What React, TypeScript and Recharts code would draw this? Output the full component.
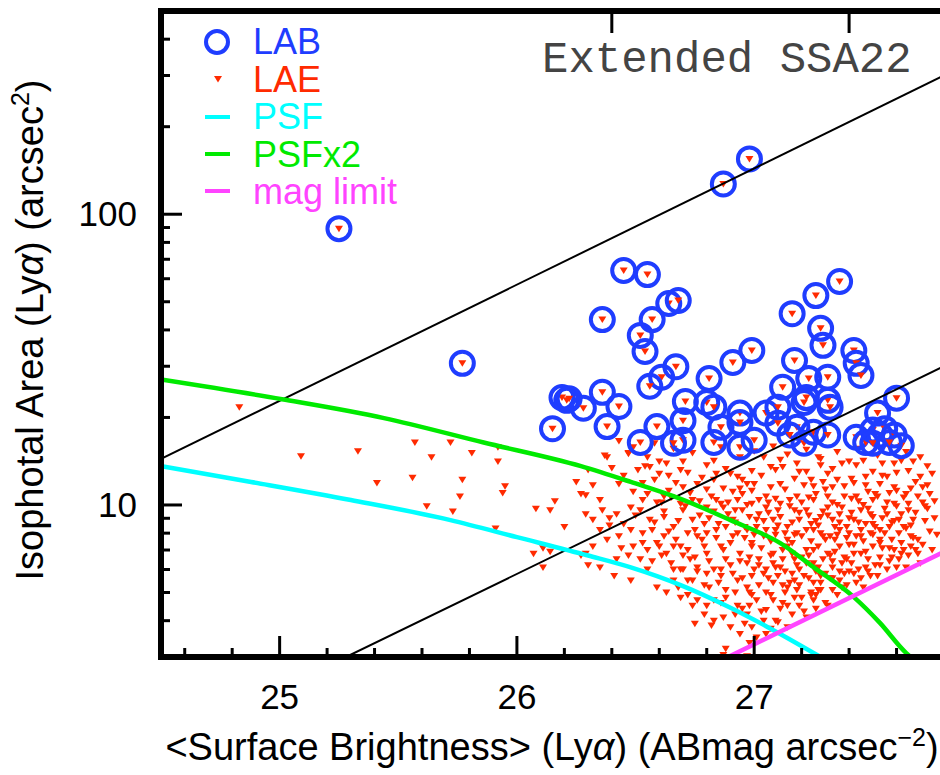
import { Scatter, ScatterChart, XAxis, YAxis } from 'recharts';

// Lyα isophotal area vs mean surface brightness, Extended SSA22 field.
const FONT = '"Liberation Sans", Arial, Helvetica, sans-serif';
const BLUE = '#1f3dff';
const RED = '#ff2a00';
const CYAN = '#00ffff';
const GREEN = '#00ea00';
const MAGENTA = '#ff44ff';

const X_DOMAIN: [number, number] = [24.5, 27.8];
const Y_DOMAIN: [number, number] = [3, 500];
const X_TICKS = [
  24.6, 24.8, 25, 25.2, 25.4, 25.6, 25.8, 26, 26.2, 26.4, 26.6, 26.8, 27, 27.2, 27.4, 27.6,
];
const X_TOP_TICKS = [26.4, 27.4];
const Y_TICKS = [4, 5, 6, 7, 8, 9, 10, 20, 30, 40, 50, 60, 70, 80, 90, 100, 200, 300, 400];
const Y_RIGHT_TICKS = [...Y_TICKS, 500];

// Lyα blobs (circles)
const LAB: [number, number][] = [
  [25.25, 89.2], [25.77, 30.7], [26.87, 127], [26.98, 155], [26.15, 18.3], [26.19, 23.4],
  [26.21, 22.9], [26.22, 23.2], [26.28, 21.5], [26.36, 24.4], [26.36, 43.4], [26.43, 21.8],
  [26.38, 18.6], [26.45, 64.0], [26.55, 62.0], [26.52, 38.3], [26.54, 33.7], [26.57, 43.4],
  [26.64, 49.3], [26.68, 50.5], [26.67, 29.9], [26.61, 27.5], [26.56, 25.6], [26.52, 16.4],
  [26.59, 18.6], [26.71, 22.7], [26.7, 19.5], [26.7, 16.7], [26.66, 16.3], [26.81, 27.2],
  [26.8, 22.5], [26.83, 21.7], [26.83, 16.4], [26.86, 18.5], [26.91, 30.9], [26.99, 34.0],
  [26.94, 20.7], [26.94, 19.2], [26.94, 15.8], [27.0, 16.7], [27.05, 20.7], [27.1, 21.7],
  [27.12, 25.4], [27.1, 19.1], [27.16, 45.5], [27.17, 31.4], [27.26, 52.5], [27.28, 40.5],
  [27.29, 35.4], [27.36, 58.7], [27.23, 27.2], [27.22, 23.4], [27.21, 22.5], [27.18, 18.5],
  [27.15, 17.4], [27.21, 16.3], [27.25, 17.8], [27.31, 27.5], [27.31, 22.9], [27.32, 21.7],
  [27.31, 17.4], [27.42, 34.0], [27.43, 30.7], [27.45, 27.9], [27.6, 23.3], [27.52, 20.7],
  [27.43, 17.1], [27.47, 16.4], [27.5, 18.1], [27.53, 17.4], [27.55, 18.3], [27.59, 17.4],
  [27.62, 16.0], [27.5, 16.3], [27.57, 16.4],
];

// Lyα emitters (small red triangles)
const LAE: [number, number][] = [
  // sparse, bright end
  [24.83, 21.7], [25.09, 14.7], [25.33, 15.3], [25.41, 11.9], [25.57, 16.4], [25.56, 12.4],
  [25.64, 14.6], [25.72, 16.4], [25.81, 15.1], [25.77, 12.2], [25.76, 10.7], [25.73, 9.5],
  [25.62, 9.9], [25.92, 15.8], [25.92, 14.1], [25.95, 11.6], [25.94, 11.0], [25.91, 8.3],
  [26.08, 9.7], [26.14, 9.6], [26.16, 10.3], [26.2, 8.4], [26.07, 6.8], [26.11, 7.1],
  [26.14, 6.9], [26.11, 6.1], [26.25, 12.0], [26.27, 10.9], [26.3, 13.2], [26.3, 6.2],
  [26.27, 6.7], [26.38, 14.6], [26.47, 15.1],
  // upper band
  [26.37, 14.8], [26.47, 15.0], [26.51, 13.2], [26.56, 13.5], [26.6, 14.1], [26.63, 13.9],
  [26.69, 13.2], [26.8, 13.7], [26.84, 12.8], [26.88, 13.3], [26.93, 12.5], [26.97, 11.8],
  [27.04, 14.6], [27.09, 13.2], [27.12, 13.5], [27.18, 13.9], [27.22, 13.0], [27.28, 13.7],
  [27.31, 12.8], [27.33, 13.3], [27.37, 13.9], [27.4, 14.1], [27.43, 13.7], [27.47, 12.5],
  [27.5, 13.0], [27.54, 13.9], [27.59, 13.9], [27.62, 14.2], [27.67, 14.1], [27.7, 12.5],
  [27.73, 11.7], [27.56, 12.5], [27.53, 11.8], [27.47, 11.7], [27.41, 12.3], [27.35, 12.2],
  [27.29, 12.0], [27.24, 12.2], [27.17, 12.3], [27.11, 11.8], [27.07, 11.5], [26.32, 11.7],
  [26.29, 10.8], [26.43, 11.8], [26.49, 11.1], [26.53, 10.4], [26.59, 10.2], [26.64, 11.2],
  [26.7, 11.5], [26.76, 11.8], [26.83, 12.2], [26.87, 11.4], [26.91, 11.1], [26.95, 12.2],
  [26.99, 11.2], [27.02, 10.4],
  [26.66, 15.6], [26.74, 15.1], [26.86, 15.8], [26.94, 14.6], [27.0, 15.3], [27.08, 15.9],
  [27.14, 14.9], [27.22, 15.5], [27.27, 14.6], [27.35, 15.2], [27.44, 15.6], [27.52, 14.8],
  [27.57, 15.8], [27.64, 15.2], [27.7, 14.6], [26.55, 14.6], [26.49, 15.8], [26.43, 16.6],
  [26.58, 16.3],
  [26.53, 11.9], [26.64, 12.6], [26.8, 11.3], [26.9, 12.8], [27.07, 13.5], [27.19, 13.0],
  [27.25, 11.6], [27.33, 11.5], [27.42, 11.9], [27.54, 12.6], [27.6, 12.9], [27.65, 13.1],
  [27.73, 13.6], [27.46, 14.2], [27.28, 14.4], [27.11, 14.3], [26.99, 13.1], [26.83, 14.2],
  [26.7, 14.1], [26.6, 12.8],
  // middle band
  [26.32, 8.9], [26.36, 9.6], [26.39, 9.0], [26.45, 8.6], [26.48, 8.2], [26.52, 9.6],
  [26.56, 8.9], [26.62, 9.1], [26.66, 8.4], [26.7, 9.6], [26.74, 8.9], [26.79, 8.6],
  [26.83, 9.5], [26.87, 9.8], [26.91, 8.9], [26.95, 9.6], [26.98, 9.1], [27.02, 9.3],
  [27.05, 9.8], [27.08, 8.9], [27.11, 9.1], [27.14, 8.4], [27.17, 9.6], [27.19, 8.9],
  [27.22, 9.6], [27.25, 8.2], [27.28, 9.1], [27.31, 9.8], [27.33, 8.9], [27.36, 9.3],
  [27.39, 8.4], [27.42, 8.9], [27.45, 9.6], [27.47, 8.6], [27.5, 9.1], [27.53, 8.2],
  [27.56, 9.3], [27.59, 10.1], [27.61, 8.9], [27.65, 9.6], [27.67, 8.9], [27.5, 10.4],
  [27.43, 10.7], [27.38, 10.7], [27.31, 10.7], [27.25, 10.4], [27.18, 10.7], [27.11, 10.1],
  [27.05, 10.7], [26.99, 10.1], [26.93, 10.4], [26.86, 10.1], [26.8, 9.8], [26.74, 10.4],
  [26.69, 10.1], [26.62, 10.7], [26.55, 10.9], [26.48, 9.8], [26.42, 9.3], [26.35, 10.4],
  [27.64, 10.9], [27.59, 11.5], [27.69, 10.7], [27.66, 7.8], [27.61, 8.0], [27.57, 8.4],
  [27.53, 7.6], [27.49, 8.0], [27.45, 7.8], [27.4, 8.0], [27.36, 8.2], [27.32, 7.8],
  [27.28, 8.0], [27.24, 8.6], [27.18, 8.0], [27.14, 7.6], [27.09, 8.2], [27.05, 8.2],
  [27.01, 8.4], [26.97, 8.2], [26.93, 8.0], [26.88, 8.4], [26.84, 8.2], [26.8, 8.0],
  [26.76, 7.8], [26.72, 8.0], [26.67, 7.6], [26.62, 7.8], [26.57, 8.2], [26.53, 8.0],
  [26.49, 7.2], [26.55, 7.0],
  [26.95, 10.9], [27.0, 11.8], [27.03, 12.6], [27.06, 9.4], [27.09, 10.5], [27.13, 11.3],
  [27.15, 9.9], [27.16, 8.7], [27.2, 10.2], [27.21, 11.7], [27.23, 9.2], [27.26, 10.9],
  [27.27, 8.5], [27.29, 9.5], [27.3, 11.3], [27.33, 10.2], [27.34, 8.4], [27.37, 9.8],
  [27.38, 11.6], [27.4, 9.0], [27.41, 10.5], [27.44, 8.7], [27.46, 10.0], [27.48, 11.1],
  [27.49, 9.3], [27.51, 8.4], [27.52, 10.7], [27.55, 9.7], [27.57, 11.0], [27.58, 8.7],
  [27.6, 9.9], [27.63, 10.6], [27.64, 8.3], [27.66, 11.4], [27.68, 9.4], [27.71, 10.2],
  [27.72, 8.8], [27.76, 10.3], [27.75, 12.8], [27.77, 7.9], [27.76, 9.0],
  [26.62, 9.5], [26.65, 10.6], [26.68, 8.8], [26.71, 9.9], [26.73, 11.0], [26.75, 8.2],
  [26.77, 10.3], [26.79, 7.2], [26.81, 9.0], [26.84, 10.4], [26.85, 8.6], [26.87, 7.0],
  [26.89, 10.2], [26.91, 7.8], [26.92, 9.6], [26.94, 6.4], [26.96, 8.4], [26.97, 10.0],
  [26.99, 7.4], [27.01, 8.9], [27.02, 6.2], [27.04, 7.8], [27.06, 10.2], [27.07, 6.7],
  [27.09, 7.9], [27.1, 9.6], [27.12, 6.5], [27.13, 8.0], [27.15, 10.4], [27.16, 6.8],
  [27.17, 7.9], [27.19, 9.4], [27.2, 6.6], [27.22, 8.2], [27.23, 10.6], [27.25, 7.0],
  [27.26, 8.8], [27.27, 6.1], [27.29, 7.8], [27.31, 9.2], [27.32, 6.7], [27.34, 7.6],
  [27.35, 10.0], [27.36, 8.7], [27.38, 6.6], [27.39, 7.7], [27.41, 9.4], [27.42, 7.3],
  [27.44, 10.3], [27.45, 8.2], [27.47, 6.9], [27.48, 9.7], [27.5, 8.6], [27.51, 10.9],
  [27.53, 7.4], [27.54, 9.0], [27.56, 10.2], [27.57, 7.1], [27.59, 8.8], [27.6, 11.2],
  [27.62, 9.3], [27.63, 7.0], [27.65, 10.1], [27.66, 8.5], [27.68, 12.0], [27.69, 7.6],
  [27.71, 11.5], [27.72, 9.9], [27.74, 10.9], [27.75, 7.0],
  // lower band
  [26.59, 7.4], [26.63, 6.8], [26.69, 7.2], [26.73, 6.5], [26.76, 6.1], [26.8, 6.8],
  [26.83, 6.0], [26.86, 7.2], [26.88, 6.5], [26.91, 5.8], [26.94, 6.8], [26.97, 6.3],
  [26.99, 7.2], [27.02, 6.5], [27.05, 6.0], [27.08, 6.8], [27.11, 6.1], [27.14, 7.2],
  [27.17, 6.5], [27.19, 6.0], [27.22, 7.0], [27.25, 6.3], [27.28, 5.7], [27.31, 6.8],
  [27.33, 6.1], [27.36, 7.2], [27.39, 6.5], [27.42, 5.8], [27.45, 6.8], [27.47, 6.1],
  [27.5, 7.2], [27.53, 6.6], [27.56, 6.0], [27.59, 7.0], [27.61, 6.5], [27.64, 6.1],
  [27.66, 7.2], [27.69, 6.8], [27.49, 5.7], [27.36, 5.5], [27.25, 5.4], [27.17, 5.5],
  [27.08, 5.4], [26.99, 5.7], [26.93, 5.5], [26.86, 5.7], [26.8, 5.8], [26.74, 5.5],
  [26.69, 6.0], [26.65, 6.3], [27.46, 5.2], [27.33, 5.1], [27.24, 5.0], [27.14, 5.2],
  [27.05, 5.0], [26.97, 5.2], [26.88, 5.1], [26.81, 5.2],
  [26.9, 7.4], [26.92, 8.7], [26.96, 7.7], [26.98, 6.6], [27.0, 7.9], [27.03, 7.1],
  [27.04, 8.8], [27.07, 7.5], [27.08, 6.3], [27.1, 8.5], [27.12, 7.0], [27.13, 5.9],
  [27.16, 7.4], [27.18, 6.2], [27.2, 7.8], [27.21, 5.7], [27.23, 6.7], [27.24, 7.5],
  [27.26, 5.9], [27.27, 7.2], [27.29, 6.5], [27.3, 7.6], [27.32, 5.6], [27.34, 6.9],
  [27.35, 7.9], [27.37, 6.3], [27.38, 5.8], [27.4, 7.3], [27.42, 6.8], [27.43, 7.8],
  [27.44, 6.0], [27.46, 7.5], [27.48, 6.5], [27.5, 7.9], [27.51, 6.2], [27.52, 5.7],
  [27.54, 7.1], [27.55, 8.0], [27.57, 6.4], [27.58, 7.6], [27.6, 6.1], [27.62, 7.4],
  [27.63, 8.4], [27.65, 6.7], [27.67, 7.7], [27.7, 6.3], [27.71, 7.3], [27.73, 9.7],
  [27.74, 8.1],
  [26.72, 7.0], [26.75, 6.6], [26.78, 7.6], [26.79, 5.3], [26.81, 6.4], [26.84, 7.7],
  [26.86, 6.0], [26.7, 6.0], [26.68, 5.2], [26.66, 7.2], [26.64, 8.1], [26.61, 6.7],
  [26.77, 9.2], [26.82, 10.7], [26.89, 9.3], [26.94, 11.4], [26.78, 12.4], [26.72, 12.9],
  [26.67, 11.9], [26.58, 12.2], [26.54, 13.6], [26.45, 12.6], [26.4, 13.4],
  [26.95, 5.6], [26.98, 5.0], [27.0, 6.0], [27.04, 5.8], [27.09, 6.1], [27.12, 5.3],
  [27.16, 5.8], [27.19, 5.3], [27.22, 6.3], [27.24, 4.9], [27.27, 5.1], [27.3, 5.8],
  [27.33, 6.4], [27.36, 5.9], [27.39, 5.3], [27.41, 6.3], [27.45, 5.6], [27.48, 5.9],
  [27.53, 6.2], [27.58, 6.6], [27.62, 6.8], [27.68, 7.0],
  [26.76, 5.9], [26.72, 5.5], [26.7, 6.7], [26.66, 6.0], [26.6, 7.2], [26.57, 6.4],
  [26.53, 7.4], [26.47, 6.7], [26.44, 7.1], [26.39, 8.5], [26.5, 9.2], [26.58, 8.7],
  [26.61, 10.2],
  // faint end, near the limits
  [26.76, 4.7], [26.8, 4.5], [26.83, 4.0], [26.87, 4.1], [26.93, 4.5], [26.97, 4.2],
  [27.01, 4.7], [27.05, 4.35], [27.09, 4.0], [27.12, 4.6], [27.17, 4.8], [27.19, 4.5],
  [27.25, 4.7], [27.28, 5.1], [27.31, 4.5], [27.22, 4.1], [27.14, 3.8], [26.99, 3.8],
  [26.94, 3.6], [26.88, 3.2], [27.05, 3.6], [26.83, 4.7], [26.74, 4.5], [26.69, 4.8],
  [26.63, 5.0], [26.59, 5.2], [26.55, 6.0], [26.52, 6.5], [26.48, 5.5], [26.41, 5.7],
  [26.42, 6.5], [26.35, 6.1], [26.29, 6.8], [26.32, 7.2], [26.38, 7.6], [26.43, 7.8],
  [26.35, 8.2], [26.29, 9.3],
  [26.87, 3.05], [26.97, 3.02], [26.98, 3.35], [26.96, 3.9], [26.75, 3.9], [26.82, 3.85],
  [27.1, 3.95],
  [26.85, 5.4], [26.88, 4.8], [26.9, 6.2], [26.92, 5.0], [26.95, 4.4], [26.99, 4.9],
  [27.02, 5.3], [27.03, 4.3], [27.06, 5.6], [27.07, 4.9], [27.1, 5.7], [27.11, 4.4],
  [27.13, 5.0], [27.15, 5.4], [27.16, 4.2], [27.18, 5.1], [27.2, 4.8], [27.23, 5.6],
  [27.26, 4.9], [27.28, 5.4], [27.3, 4.6], [27.33, 5.6], [27.35, 4.9], [27.37, 5.2],
  [27.4, 5.9], [27.43, 5.4],
  [26.92, 4.2], [26.98, 4.5], [27.04, 4.0], [27.08, 4.7], [27.14, 4.5], [27.21, 4.3],
  [27.26, 4.4], [26.9, 3.8], [27.01, 3.5], [27.07, 3.75], [26.86, 4.6], [26.79, 4.2],
  [26.72, 4.9], [26.66, 5.5],
];

// constant-flux diagonals, PSF tracks and magnitude limit
const FLUX_HIGH: [number, number][] = [[24.5, 14.4], [27.8, 300]];
const FLUX_LOW: [number, number][] = [[25.28, 3], [27.8, 30]];
const MAG_LIMIT: [number, number][] = [[26.89, 3], [27.8, 6.9]];
const PSF: [number, number][] = [
  [24.5, 13.6], [24.88, 12.0], [25.3, 10.4], [25.72, 8.87], [26.0, 7.75], [26.3, 6.7],
  [26.48, 6.1], [26.69, 5.3], [26.9, 4.43], [27.05, 3.83], [27.28, 3.0],
];
const PSF_X2: [number, number][] = [
  [24.5, 27.0], [25.01, 23.1], [25.44, 19.9], [25.86, 16.4], [26.27, 13.6], [26.48, 12.0],
  [26.69, 10.5], [26.9, 8.87], [27.11, 7.39], [27.25, 6.11], [27.42, 4.82], [27.53, 3.93],
  [27.64, 3.1], [27.66, 3.0],
];

// chart box: the plot area runs from LEFT to LEFT+PLOT_W, TOP to PLOT_BOTTOM
const CHART_W = 946;
const CHART_H = 775;
const LEFT = 161;
const TOP = 11;
const RIGHT_PAD = 2;
const X_AXIS_H = 118;
const PLOT_W = CHART_W - LEFT - RIGHT_PAD;
const PLOT_BOTTOM = CHART_H - X_AXIS_H;
const topTickX = (v: number) => LEFT + ((v - X_DOMAIN[0]) / (X_DOMAIN[1] - X_DOMAIN[0])) * PLOT_W;

const pts = (a: [number, number][]) => a.map(([x, y]) => ({ x, y }));

const tri = (cx: number, cy: number) =>
  `M${cx - 4},${cy - 3}L${cx + 4},${cy - 3}L${cx},${cy + 3.5}Z`;

const LaeShape = (p: any) => <path d={tri(p.cx, p.cy)} fill={RED} />;
const LabShape = (p: any) => (
  <g>
    <circle cx={p.cx} cy={p.cy} r={11.5} fill="none" stroke={BLUE} strokeWidth={4} />
    <path d={tri(p.cx, p.cy)} fill={RED} />
  </g>
);
const NoShape = () => <g />;

const isInt = (v: number) => Math.abs(v - Math.round(v)) < 1e-6;
const isDecade = (v: number) => v === 10 || v === 100;

function BottomTick(p: any) {
  const v = p.payload.value;
  const major = isInt(v);
  return (
    <g>
      <line x1={p.x} x2={p.x} y1={p.y} y2={p.y - (major ? 21 : 9)} stroke="#000" strokeWidth={3} />
      {major && (
        <text x={p.x} y={p.y + 52} textAnchor="middle" fontSize={35} fontFamily={FONT} fill="#000">
          {v}
        </text>
      )}
    </g>
  );
}

function LeftTick(p: any) {
  const v = p.payload.value;
  const major = isDecade(v);
  return (
    <g>
      <line x1={p.x} x2={p.x + (major ? 21 : 9)} y1={p.y} y2={p.y} stroke="#000" strokeWidth={3} />
      {major && (
        <text x={p.x - 24} y={p.y + 12} textAnchor="end" fontSize={35} fontFamily={FONT} fill="#000">
          {v}
        </text>
      )}
    </g>
  );
}

// right-side ticks; the tick at the top of the domain also carries the top edge of the frame
function RightTick(p: any) {
  const v = p.payload.value;
  if (v === Y_DOMAIN[1]) {
    return (
      <g>
        <line x1={p.x} x2={p.x - PLOT_W - 3} y1={p.y} y2={p.y} stroke="#000" strokeWidth={5} />
        {X_TOP_TICKS.map((t) => (
          <line key={t} x1={topTickX(t)} x2={topTickX(t)} y1={p.y} y2={p.y + 22} stroke="#000" strokeWidth={3} />
        ))}
      </g>
    );
  }
  const major = isDecade(v);
  return <line x1={p.x} x2={p.x - (major ? 21 : 9)} y1={p.y} y2={p.y} stroke="#000" strokeWidth={3} />;
}

const axisLine = { stroke: '#000', strokeWidth: 5 };

export default function App() {
  return (
    <div
      style={{
        position: 'absolute',
        left: 0,
        top: 0,
        width: 940,
        height: 775,
        overflow: 'hidden',
        background: '#fff',
        fontFamily: FONT,
      }}
    >
      <ScatterChart
        width={CHART_W}
        height={CHART_H}
        margin={{ top: TOP, right: RIGHT_PAD, bottom: 0, left: 0 }}
      >
        <XAxis
          dataKey="x"
          type="number"
          domain={X_DOMAIN}
          allowDataOverflow
          ticks={X_TICKS}
          interval={0}
          tickSize={0}
          tickMargin={0}
          tickLine={false}
          axisLine={axisLine}
          tick={BottomTick}
          height={X_AXIS_H}
        />
        <YAxis
          dataKey="y"
          type="number"
          scale="log"
          domain={Y_DOMAIN}
          allowDataOverflow
          ticks={Y_TICKS}
          interval={0}
          tickSize={0}
          tickMargin={0}
          tickLine={false}
          axisLine={axisLine}
          tick={LeftTick}
          width={LEFT}
        />
        <YAxis
          yAxisId="right"
          orientation="right"
          dataKey="y"
          type="number"
          scale="log"
          domain={Y_DOMAIN}
          allowDataOverflow
          ticks={Y_RIGHT_TICKS}
          interval={0}
          tickSize={0}
          tickMargin={0}
          tickLine={false}
          axisLine={axisLine}
          tick={RightTick}
          width={0}
        />
        <Scatter data={pts(LAE)} shape={LaeShape} isAnimationActive={false} />
        <Scatter data={pts(LAB)} shape={LabShape} isAnimationActive={false} />
        <Scatter
          data={pts(FLUX_HIGH)}
          line={{ stroke: '#000', strokeWidth: 2 }}
          shape={NoShape}
          isAnimationActive={false}
        />
        <Scatter
          data={pts(FLUX_LOW)}
          line={{ stroke: '#000', strokeWidth: 2 }}
          shape={NoShape}
          isAnimationActive={false}
        />
        <Scatter
          data={pts(PSF)}
          line={{ stroke: CYAN, strokeWidth: 4.5 }}
          lineJointType="monotoneX"
          shape={NoShape}
          isAnimationActive={false}
        />
        <Scatter
          data={pts(PSF_X2)}
          line={{ stroke: GREEN, strokeWidth: 4.5 }}
          lineJointType="monotoneX"
          shape={NoShape}
          isAnimationActive={false}
        />
        <Scatter
          data={pts(MAG_LIMIT)}
          line={{ stroke: MAGENTA, strokeWidth: 4.5 }}
          shape={NoShape}
          isAnimationActive={false}
        />
      </ScatterChart>

      {/* frame edges, titles, legend and field label */}
      <svg
        width={940}
        height={775}
        style={{ position: 'absolute', left: 0, top: 0, pointerEvents: 'none' }}
        fontFamily={FONT}
      >
        <rect x={LEFT - 3} y={TOP - 3} width={6} height={PLOT_BOTTOM - TOP + 6} fill="#000" />
        <rect x={LEFT - 3} y={TOP - 3} width={940 - LEFT + 3} height={6} fill="#000" />
        <rect x={LEFT - 3} y={PLOT_BOTTOM - 3} width={940 - LEFT + 3} height={6} fill="#000" />
        {X_TOP_TICKS.map((t) => (
          <rect key={t} x={topTickX(t) - 1.5} y={TOP} width={3} height={22} fill="#000" />
        ))}

        <text transform="translate(43,330) rotate(-90)" textAnchor="middle" fontSize={38} fill="#000">
          Isophotal Area (Ly<tspan fontStyle="italic">α</tspan>) (arcsec
          <tspan dy={-14} fontSize={25}>2</tspan>
          <tspan dy={14}>)</tspan>
        </text>
        <text x={552} y={760} textAnchor="middle" fontSize={38} fill="#000">
          {'<Surface Brightness> (Ly'}
          <tspan fontStyle="italic">α</tspan>
          {') (ABmag arcsec'}
          <tspan dy={-14} fontSize={25}>−2</tspan>
          <tspan dy={14}>)</tspan>
        </text>

        <text x={542} y={72} fontSize={44} fontFamily='"Courier New", "Liberation Mono", monospace' fill="#444">
          Extended SSA22
        </text>

        <circle cx={217} cy={42} r={11} fill="none" stroke={BLUE} strokeWidth={4} />
        <text x={253} y={54} fontSize={36} fill={BLUE}>LAB</text>
        <path d={tri(218, 79)} fill={RED} />
        <text x={253} y={92} fontSize={36} fill={RED}>LAE</text>
        <line x1={205} x2={230} y1={117} y2={117} stroke={CYAN} strokeWidth={4} />
        <text x={253} y={129} fontSize={36} fill={CYAN}>PSF</text>
        <line x1={205} x2={230} y1={154} y2={154} stroke={GREEN} strokeWidth={4} />
        <text x={253} y={167} fontSize={36} fill={GREEN}>PSFx2</text>
        <line x1={205} x2={230} y1={191} y2={191} stroke={MAGENTA} strokeWidth={4} />
        <text x={253} y={204} fontSize={36} fill={MAGENTA}>mag limit</text>
      </svg>
    </div>
  );
}
